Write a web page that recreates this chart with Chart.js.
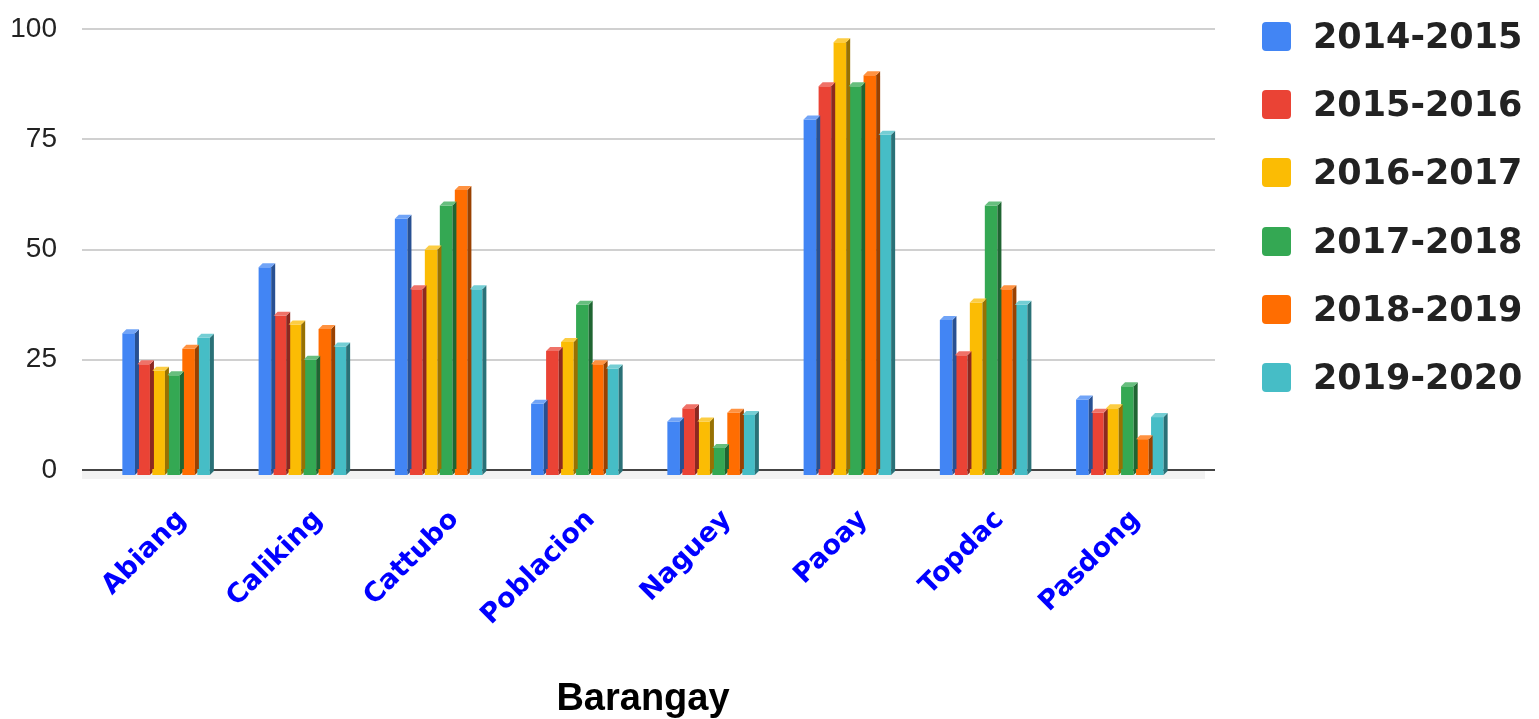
<!DOCTYPE html>
<html>
<head>
<meta charset="utf-8">
<script src="https://cdn.jsdelivr.net/npm/chart.js@4/dist/chart.umd.min.js"></script>
<style>
  html, body { margin: 0; padding: 0; background: #fff; }
  .wrap { position: relative; width: 1539px; height: 719px; }
  #barChart { position: absolute; left: 0; top: 0; }
  .legend { position: absolute; left: 1262px; top: 22px; }
  .legend-item { display: flex; align-items: center; height: 29px; margin-bottom: 39.2px; }
  .legend-box { width: 29px; height: 29px; border-radius: 4px; margin-right: 22px; }
  .legend-text { font: bold 35px "DejaVu Sans", sans-serif; color: #222; line-height: 29px; }
</style>
</head>
<body>
<div class="wrap">
  <canvas id="barChart" width="1539" height="719"></canvas>
  <div class="legend" id="legend"></div>
</div>
<script>
const categories = ['Abiang', 'Caliking', 'Cattubo', 'Poblacion', 'Naguey', 'Paoay', 'Topdac', 'Pasdong'];
const seriesNames = ['2014-2015', '2015-2016', '2016-2017', '2017-2018', '2018-2019', '2019-2020'];
const y2014 = [31, 46, 57, 15, 11, 79.5, 34, 16];
const y2015 = [24, 35, 41, 27, 14, 87, 26, 13];
const y2016 = [22.5, 33, 50, 29, 11, 97, 38, 14];
const y2017 = [21.5, 25, 60, 37.5, 5, 87, 60, 19];
const y2018 = [27.5, 32, 63.5, 24, 13, 89.5, 41, 7];
const y2019 = [30, 28, 41, 23, 12.5, 76, 37.5, 12];
const yTicks = [0, 25, 50, 75, 100];

const seriesValues = [y2014, y2015, y2016, y2017, y2018, y2019];
const colors = ['#4285f4', '#ea4335', '#fbbc04', '#34a853', '#ff6d01', '#46bdc6'];

function shade(hex, f) {
  const n = parseInt(hex.slice(1), 16);
  let r = (n >> 16) & 255, g = (n >> 8) & 255, b = n & 255;
  if (f < 0) {
    r = r * (1 + f); g = g * (1 + f); b = b * (1 + f);
  } else {
    r = r + (255 - r) * f; g = g + (255 - g) * f; b = b + (255 - b) * f;
  }
  return `rgb(${Math.round(r)}, ${Math.round(g)}, ${Math.round(b)})`;
}

// grid lines, floor and the fake 3d faces of the bars
const depth = 4;
const threeD = {
  id: 'threeD',
  beforeDatasetsDraw(chart) {
    const { ctx, chartArea, scales: { y } } = chart;
    const left = chartArea.left - 16;
    const right = chartArea.right + 27;
    const base = y.getPixelForValue(0);
    ctx.save();
    ctx.fillStyle = '#f2f2f2';
    ctx.fillRect(left, base + 1, right - left - 10, 8);
    yTicks.forEach((t) => {
      const py = Math.round(y.getPixelForValue(t));
      ctx.beginPath();
      ctx.moveTo(left, py);
      ctx.lineTo(right, py);
      ctx.lineWidth = 2;
      ctx.strokeStyle = t === 0 ? '#444' : '#d0d0d0';
      ctx.stroke();
    });
    ctx.restore();
  },
  afterDatasetsDraw(chart) {
    const { ctx, scales: { y } } = chart;
    const base = y.getPixelForValue(0);
    ctx.save();
    chart.data.datasets.forEach((ds, i) => {
      const meta = chart.getDatasetMeta(i);
      const c = colors[i];
      meta.data.forEach((bar) => {
        const { x, y: top, width } = bar.getProps(['x', 'y', 'width'], true);
        const l = x - width / 2;
        const r = x + width / 2;
        // front face runs a bit below the floor line
        ctx.fillStyle = c;
        ctx.fillRect(l, base - 1, width, 6);
        // side face
        ctx.fillStyle = shade(c, -0.4);
        ctx.beginPath();
        ctx.moveTo(r, top);
        ctx.lineTo(r + depth, top - depth);
        ctx.lineTo(r + depth, base + 5 - depth);
        ctx.lineTo(r, base + 5);
        ctx.closePath();
        ctx.fill();
        // top face
        ctx.fillStyle = shade(c, 0.25);
        ctx.beginPath();
        ctx.moveTo(l, top);
        ctx.lineTo(l + depth, top - depth);
        ctx.lineTo(r + depth, top - depth);
        ctx.lineTo(r, top);
        ctx.closePath();
        ctx.fill();
      });
    });
    ctx.restore();
  },
};

const ctx = document.getElementById('barChart');

new Chart(ctx, {
  type: 'bar',
  data: {
    labels: categories,
    datasets: seriesNames.map((name, i) => ({
      label: name,
      data: seriesValues[i],
      backgroundColor: colors[i],
      borderWidth: 0,
      categoryPercentage: 0.66,
      barPercentage: 0.84,
    })),
  },
  options: {
    responsive: false,
    animation: false,
    layout: {
      padding: { top: 29, right: 351, bottom: 0, left: 0 },
    },
    plugins: {
      legend: { display: false },
      tooltip: { enabled: false },
    },
    scales: {
      x: {
        grid: { display: false, drawTicks: false },
        border: { display: false },
        ticks: {
          color: '#0000ff',
          font: { family: 'DejaVu Sans', size: 27, weight: 'bold' },
          minRotation: 45,
          maxRotation: 45,
          padding: 34,
          labelOffset: 16,
          autoSkip: false,
        },
        title: {
          display: true,
          text: 'Barangay',
          color: '#000',
          font: { family: 'Liberation Sans', size: 38, weight: 'bold', lineHeight: 1 },
          padding: { top: 0, bottom: 0 },
        },
        afterFit: (scale) => { scale.height = 249; },
      },
      y: {
        min: 0,
        max: 100,
        grid: { display: false, drawTicks: false },
        border: { display: false },
        ticks: {
          stepSize: 25,
          color: '#222',
          font: { family: 'Liberation Sans', size: 28 },
          padding: 41,
        },
        afterFit: (scale) => {
          scale.width = 98;
          scale.paddingTop = 0;
          scale.paddingBottom = 0;
        },
      },
    },
  },
  plugins: [threeD],
});

// legend as html, built from the series names
const legendEl = document.getElementById('legend');
seriesNames.forEach((name, i) => {
  const item = document.createElement('div');
  item.className = 'legend-item';
  item.innerHTML = `<span class="legend-box" style="background:${colors[i]}"></span><span class="legend-text">${name}</span>`;
  legendEl.appendChild(item);
});
</script>
</body>
</html>
